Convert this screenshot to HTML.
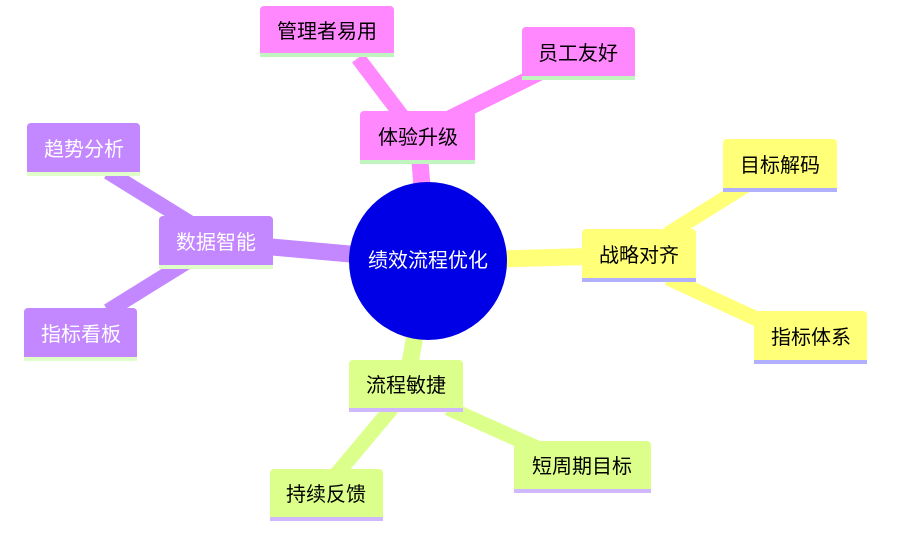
<!DOCTYPE html>
<html><head><meta charset="utf-8"><style>
body{margin:0;background:#fff;width:900px;height:528px;overflow:hidden}
svg text{font-family:"Liberation Sans","Noto Sans CJK SC",sans-serif;font-size:20px;text-anchor:middle;dominant-baseline:central}
</style></head><body>
<svg width="900" height="528" viewBox="0 0 900 528">
<g stroke-linecap="butt">
<line x1="428" y1="261" x2="418" y2="137" stroke="#ff88ff" stroke-width="17"/>
<line x1="358" y1="58" x2="405" y2="120" stroke="#ff88ff" stroke-width="15"/>
<line x1="445" y1="120" x2="542" y2="72" stroke="#ff88ff" stroke-width="15"/>
<line x1="428" y1="261" x2="216" y2="242" stroke="#c387ff" stroke-width="17"/>
<line x1="108" y1="172" x2="192" y2="224" stroke="#c387ff" stroke-width="15"/>
<line x1="108" y1="311" x2="187" y2="262" stroke="#c387ff" stroke-width="15"/>
<line x1="428" y1="261" x2="639" y2="255" stroke="#ffff78" stroke-width="17"/>
<line x1="668" y1="234" x2="748" y2="184" stroke="#ffff78" stroke-width="15"/>
<line x1="668" y1="278" x2="772" y2="326" stroke="#ffff78" stroke-width="15"/>
<line x1="428" y1="261" x2="406" y2="386" stroke="#dcff8c" stroke-width="17"/>
<line x1="392" y1="408" x2="330" y2="482" stroke="#dcff8c" stroke-width="15"/>
<line x1="448" y1="408" x2="546" y2="452" stroke="#dcff8c" stroke-width="15"/>
</g>
<circle cx="428" cy="261" r="79" fill="#0000e6"/>
<text x="428" y="261" fill="#fff">绩效流程优化</text>
<g>
<rect x="260" y="6" width="134" height="50" rx="4" fill="#ff88ff"/><rect x="260" y="53" width="134" height="4" fill="#c0f5c0"/><text x="327" y="32">管理者易用</text>
<rect x="522" y="27" width="113" height="52" rx="4" fill="#ff88ff"/><rect x="522" y="76" width="113" height="4" fill="#c0f5c0"/><text x="578" y="54">员工友好</text>
<rect x="360" y="111" width="115" height="52" rx="4" fill="#ff88ff"/><rect x="360" y="160" width="115" height="4" fill="#c0f5c0"/><text x="418" y="138">体验升级</text>

<rect x="27" y="123" width="113" height="52" rx="4" fill="#c387ff"/><rect x="27" y="172" width="113" height="4" fill="#e0ffc8"/><text x="84" y="150" fill="#fff">趋势分析</text>
<rect x="159" y="216" width="114" height="52" rx="4" fill="#c387ff"/><rect x="159" y="265" width="114" height="4" fill="#e0ffc8"/><text x="216" y="243" fill="#fff">数据智能</text>
<rect x="24" y="308" width="113" height="52" rx="4" fill="#c387ff"/><rect x="24" y="357" width="113" height="4" fill="#e0ffc8"/><text x="81" y="335" fill="#fff">指标看板</text>

<rect x="582" y="229" width="114" height="52" rx="4" fill="#ffff78"/><rect x="582" y="278" width="114" height="4" fill="#b0b0ff"/><text x="639" y="256">战略对齐</text>
<rect x="723" y="139" width="114" height="52" rx="4" fill="#ffff78"/><rect x="723" y="188" width="114" height="4" fill="#b0b0ff"/><text x="780" y="166">目标解码</text>
<rect x="754" y="311" width="113" height="52" rx="4" fill="#ffff78"/><rect x="754" y="360" width="113" height="4" fill="#b0b0ff"/><text x="811" y="338">指标体系</text>

<rect x="349" y="360" width="114" height="52" rx="4" fill="#dcff8c"/><rect x="349" y="408" width="114" height="4" fill="#d0b8ff"/><text x="406" y="386">流程敏捷</text>
<rect x="514" y="441" width="137" height="51" rx="4" fill="#dcff8c"/><rect x="514" y="489" width="137" height="4" fill="#d0b8ff"/><text x="582" y="467">短周期目标</text>
<rect x="270" y="469" width="113" height="52" rx="4" fill="#dcff8c"/><rect x="270" y="517" width="113" height="4" fill="#d0b8ff"/><text x="326" y="495">持续反馈</text>
</g>
</svg>
</body></html>
